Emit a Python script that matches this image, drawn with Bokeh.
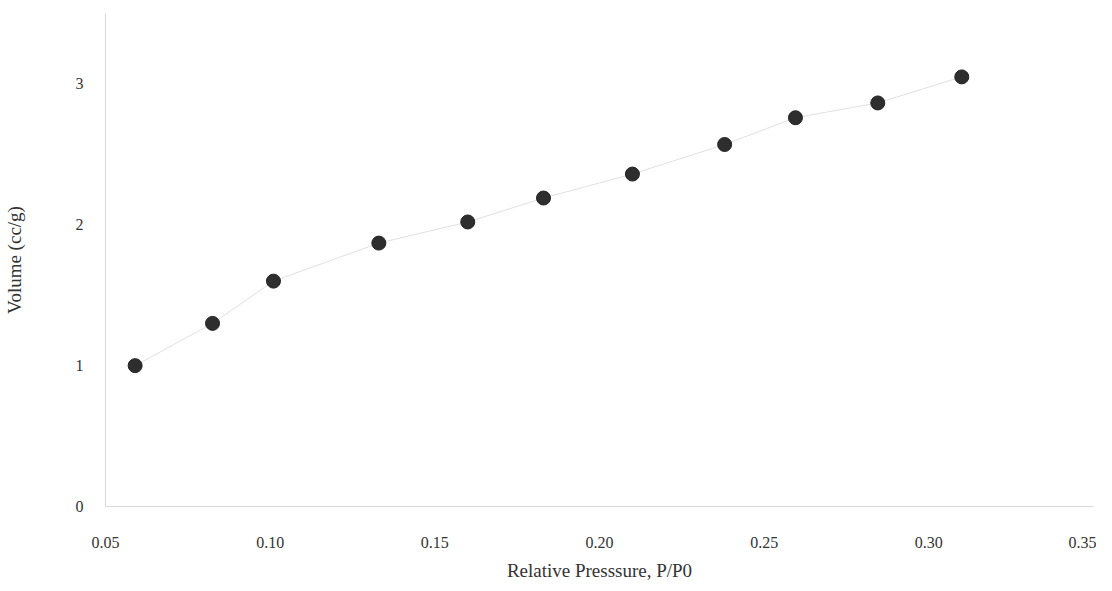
from bokeh.plotting import figure
from bokeh.models import Range1d, FixedTicker
from bokeh.embed import file_html
from bokeh.resources import INLINE

pressure = [0.059, 0.0825, 0.101, 0.133, 0.160, 0.183, 0.210, 0.238, 0.2595, 0.2845, 0.310]
volume = [1.00, 1.30, 1.60, 1.87, 2.02, 2.19, 2.36, 2.57, 2.76, 2.865, 3.05]
x_ticks = [0.05, 0.10, 0.15, 0.20, 0.25, 0.30, 0.35]
y_ticks = [0, 1, 2, 3]

p = figure(width=1096, height=583, output_backend="svg", toolbar_location=None,
           x_range=Range1d(0.05, 0.35), y_range=Range1d(0, 3.5),
           min_border_left=100, min_border_right=3, min_border_top=13, min_border_bottom=70)
p.outline_line_color = None
p.xgrid.visible = False
p.ygrid.visible = False
p.background_fill_color = "white"
p.border_fill_color = "white"

p.line(pressure, volume, line_color="#e0e0e0", line_width=1)
p.scatter(pressure, volume, size=14, fill_color="#2e2e2e", line_color="#222222", line_width=1)

font = "Liberation Serif"
for ax in (p.xaxis, p.yaxis):
    ax.axis_line_color = "#d9d9d9"
    ax.axis_line_width = 1
    ax.major_tick_line_color = None
    ax.minor_tick_line_color = None
    ax.major_label_text_font = font
    ax.major_label_text_font_size = "16px"
    ax.major_label_text_color = "#333333"
    ax.axis_label_text_font = font
    ax.axis_label_text_font_size = "19px"
    ax.axis_label_text_font_style = "normal"
    ax.axis_label_text_color = "#333333"

p.xaxis.ticker = FixedTicker(ticks=x_ticks)
p.yaxis.ticker = FixedTicker(ticks=y_ticks)
p.xaxis.major_label_overrides = {t: f"{t:.2f}" for t in x_ticks}
p.xaxis.major_label_standoff = 24
p.yaxis.major_label_standoff = 16
p.xaxis.axis_label = "Relative Presssure, P/P0"
p.yaxis.axis_label = "Volume (cc/g)"
p.xaxis.axis_label_standoff = 9
p.yaxis.axis_label_standoff = 48

open("out.html", "w").write(file_html(p, INLINE))
